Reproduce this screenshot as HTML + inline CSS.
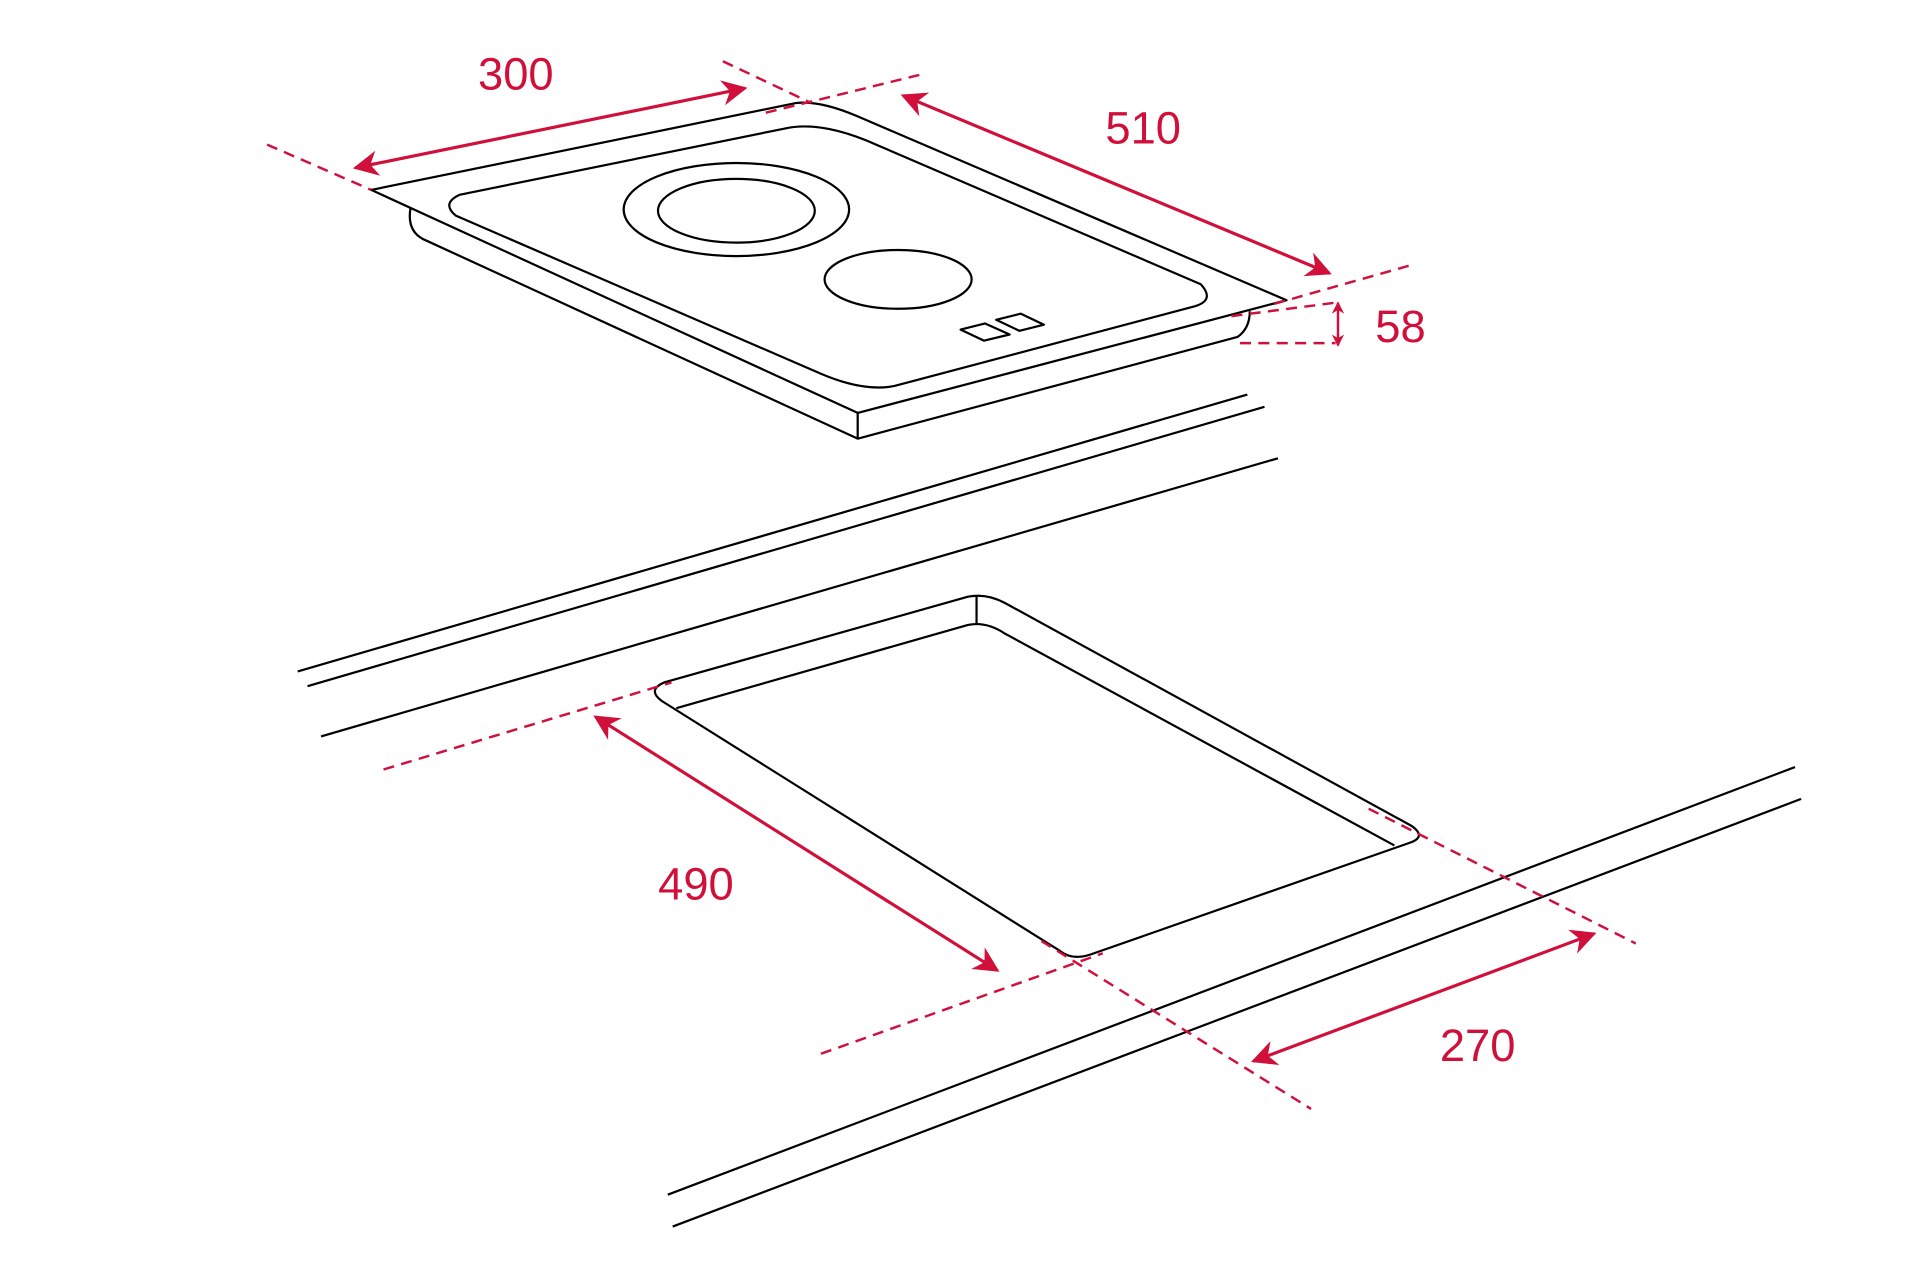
<!DOCTYPE html>
<html><head><meta charset="utf-8"><style>
html,body{margin:0;padding:0;background:#fff;width:1920px;height:1278px;overflow:hidden}
svg{display:block}
text{font-family:"Liberation Sans",sans-serif;fill:#d0103a;font-size:37px}
</style></head><body>
<svg width="1920" height="1278" viewBox="0 0 1567 1043" preserveAspectRatio="none">
<defs>
<marker id="a" viewBox="0 0 10 10" refX="9" refY="5" markerWidth="8" markerHeight="8" orient="auto-start-reverse" markerUnits="strokeWidth"><path d="M0,0 L10,5 L0,10 L3,5z" fill="#d0103a"/></marker>
<marker id="b" viewBox="0 0 10 10" refX="9" refY="5" markerWidth="5" markerHeight="5" orient="auto-start-reverse"><path d="M0,0 L10,5 L0,10 L3,5z" fill="#d0103a"/></marker>
</defs>
<g fill="none" stroke="#000" stroke-width="1.8" stroke-linejoin="round">
<path d="M303,155 L650,84 Q670,82 700,95 L1050,245 L700,337 Z"/>
<path d="M335,170 Q332,188 345,195 L700,358 L700,337"/>
<path d="M700,358 L1010,275 Q1020,268 1020,254"/>
<path d="M375,159 L640,105 Q670,98 715,118 L980,232 Q992,245 975,250 L730,315 Q705,320 670,305 L372,176 Q360,166 375,159 Z"/>
<ellipse cx="601" cy="171" rx="92" ry="38"/>
<ellipse cx="601" cy="172" rx="64" ry="26"/>
<ellipse cx="733" cy="228" rx="60" ry="24"/>
<path d="M784,269 L804,264 L824,273 L803,278 Z"/>
<path d="M813,261 L833,256 L852,265 L832,270 Z"/>
<path d="M243,548 L1018,322"/>
<path d="M251,560 L1032,332"/>
<path d="M262,601 L1043,374"/>
<path d="M545,975 L1465,626"/>
<path d="M549,1001 L1470,652"/>
<path d="M542,557 L790,487 Q805,484 820,492 L1152,674 Q1165,683 1150,688 L890,779 Q875,784 865,776 L540,572 Q528,563 542,557 Z"/>
<path d="M552,578 L790,510 Q805,507 820,517 L1138,690"/>
<path d="M797,487 L797,510"/>
</g>
<g fill="none" stroke="#d0103a" stroke-width="2" stroke-dasharray="9,6">
<path d="M218,118 L303,155"/>
<path d="M590,50 L662,84"/>
<path d="M625,92 L755,60"/>
<path d="M1040,248 L1153,216"/>
<path d="M1005,258 L1090,247"/>
<path d="M1012,280 L1090,280"/>
<path d="M313,628 L548,557"/>
<path d="M1117,660 L1335,770"/>
<path d="M670,860 L900,778"/>
<path d="M850,768 L1070,905"/>
</g>
<g stroke="#d0103a" stroke-width="2.6" fill="none">
<path d="M290,137 L608,72" marker-start="url(#a)" marker-end="url(#a)"/>
<path d="M737,78 L1085,223" marker-start="url(#a)" marker-end="url(#a)"/>
<path d="M486,585 L814,792" marker-start="url(#a)" marker-end="url(#a)"/>
<path d="M1023,866 L1301,762" marker-start="url(#a)" marker-end="url(#a)"/>
<path d="M1092,247 L1092,282" stroke-width="2" marker-start="url(#b)" marker-end="url(#b)"/>
</g>
<text x="421" y="73" text-anchor="middle">300</text>
<text x="933" y="117" text-anchor="middle">510</text>
<text x="1143" y="279" text-anchor="middle">58</text>
<text x="568" y="734" text-anchor="middle">490</text>
<text x="1206" y="866" text-anchor="middle">270</text>
</svg>
</body></html>
